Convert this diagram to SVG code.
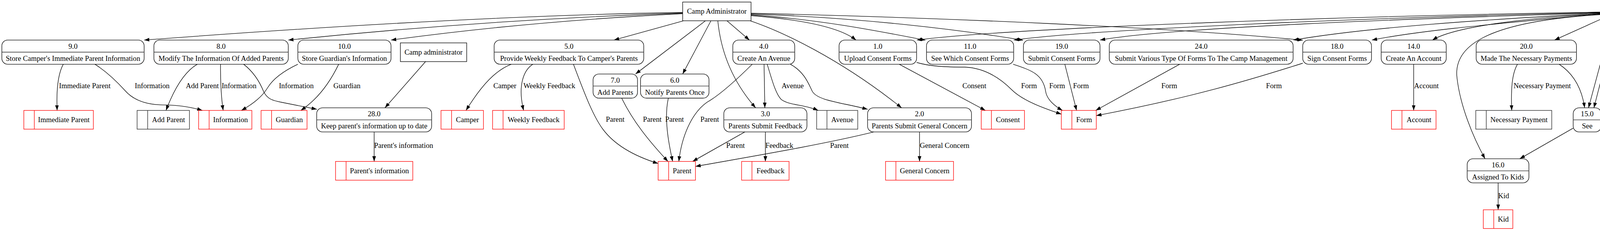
<svg xmlns="http://www.w3.org/2000/svg" width="7330" height="592" viewBox="0 0 7330 592">
<style>
text{font-family:"Liberation Serif","Times New Roman",serif;font-size:18.67px;fill:#000}
.m{text-anchor:middle}
.proc rect{fill:none;stroke:#000;stroke-width:1.33}
.proc line{stroke:#444;stroke-width:1.6}
.st rect,.st line{fill:none;stroke:#f00;stroke-width:1.33}
.sb rect,.sb line{fill:none;stroke:#222;stroke-width:1.33}
.ent rect{fill:none;stroke:#000;stroke-width:1.33}
#edges path{fill:none;stroke:#000;stroke-width:1.33;marker-end:url(#a)}
</style>
<defs>
<marker id="a" viewBox="0 0 10 7" refX="10" refY="3.5" markerWidth="13.33" markerHeight="9.33" markerUnits="userSpaceOnUse" orient="auto"><path d="M0,0L10,3.5L0,7z" fill="#000"/></marker>
</defs>
<rect width="7330" height="592" fill="#fff"/>

<g id="edges">
<!-- Camp Administrator edges -->
<path d="M1747.6,32 Q1200,40 369,102.7"/>
<path d="M1747.6,33.5 Q1250,50 738,102.7"/>
<path d="M1747.6,35 Q1350,55 1001,102.7"/>
<path d="M1749.6,53.3 L1571.7,102.7"/>
<path d="M1806,53.3 L1627,189.6"/>
<path d="M1820,53.3 L1747.6,189.6"/>
<path d="M1837.6,53.3 Q1850,180 1934.4,276.3"/>
<path d="M1861,53.3 L1918.6,102.7"/>
<path d="M1920.6,53.3 C2000,80 2150,150 2308,276.3"/>
<path d="M1922.6,40 C2050,50 2150,70 2191.5,102.7"/>
<path d="M1922.6,38 C2100,50 2250,80 2369,103"/>
<path d="M1922.6,36 C2200,45 2450,75 2619,103"/>
<path d="M1922.6,34 C2400,45 3000,70 3335,103"/>
<!-- Parent edges, left -->
<path d="M4103,31 C3500,40 2600,70 2347,102.7"/>
<path d="M4103,32 C3500,45 2800,75 2595,102.7"/>
<path d="M4103,33 C3600,48 3000,70 2816,102.7"/>
<path d="M4103,34 C3800,50 3500,70 3311,102.7"/>
<path d="M4103,35 C3900,55 3650,75 3512,102.7"/>
<path d="M4103,36 C3900,45 3720,70 3667,102.7"/>
<path d="M4103,37 C3800,55 3720,120 3730,200 C3738,270 3770,350 3801.7,406.8"/>
<path d="M4103,47 L3979.6,102.7"/>
<path d="M4126.7,53.3 L4066.6,276.3"/>
<path d="M4137.8,53.3 L4080.4,276.3"/>
<path d="M4165.4,53.3 L4218.8,102.7"/>
<!-- Parent edges, right -->
<path d="M4175.3,38 L4437,102.7"/>
<path d="M4175.3,37 C4466,45 4670,90 4757.5,103"/>
<path d="M4175.3,36 C4645,42 4975,88 5116.7,102.7"/>
<path d="M4175.3,35 C4855,42 5330,85 5543.2,102.7"/>
<path d="M4175.3,34 C4991,40 5560,82 5812.6,102.7"/>
<path d="M4175.3,33 C5073,40 5700,80 5974,102.7"/>
<path d="M4175.3,32 C5330,40 6140,75 6484.7,102.7"/>
<path d="M4175.3,31 C5470,38 6380,75 6767.7,102.7"/>
<path d="M4175.3,30 C5550,36 6500,75 6927.7,102.7"/>
<path d="M5666,53.3 L5666,102.7"/>
<!-- process to store -->
<path d="M162,164.6 C148,190 144,230 146.3,283"/>
<path d="M243,164.6 C275,185 300,210 320,232 C340,255 370,268 415,268.8 C460,269 495,276 518,283"/>
<path d="M505,164.6 C470,185 445,230 425,283"/>
<path d="M564.6,164.6 C564,200 566,250 571.4,283"/>
<path d="M623.7,164.6 C650,185 665,210 675,235 C685,255 700,258 720,262 L811,280"/>
<path d="M762.5,164.6 C730,180 700,200 685,225 C670,250 645,268 617.8,283"/>
<path d="M867,164.6 C850,200 820,250 770,283"/>
<path d="M1089.5,157.8 L985.5,276.3"/>
<path d="M957.8,338.2 L957.8,413.7"/>
<path d="M1308.7,164.6 C1270,180 1235,215 1193,283"/>
<path d="M1364,164.6 C1340,180 1325,220 1340.4,283"/>
<path d="M1468,164.6 C1500,250 1520,300 1544,332 C1580,380 1640,405 1684.8,419"/>
<path d="M1591.5,251.5 C1620,310 1660,360 1710,413.7"/>
<path d="M1711,251.5 C1700,300 1710,360 1722,413.7"/>
<path d="M1925.7,164.6 C1880,210 1840,245 1810,262 C1770,290 1745,350 1737.8,413.7"/>
<path d="M1906.8,338.2 L1773,413.7"/>
<path d="M2237,338.2 C2100,372 1900,405 1780.4,426.6"/>
<path d="M1956,164.6 L1958,276.3"/>
<path d="M1964,164.6 C1975,200 1985,240 2000,255 C2020,270 2060,268 2094.6,283"/>
<path d="M2023.4,164.6 C2060,185 2070,215 2080,235 C2095,258 2150,262 2221,280"/>
<path d="M1959.4,338.2 L1959.4,413.7"/>
<path d="M2354,338.2 L2354,413.7"/>
<path d="M2302,164.6 L2522.6,283"/>
<path d="M2346.5,160 C2380,170 2420,172 2470,172 C2520,174 2560,200 2590,230 C2620,260 2680,280 2717,292.6"/>
<path d="M2593.7,164.6 C2640,180 2670,190 2676.8,234 C2680,255 2700,272 2720,283"/>
<path d="M2726,164.6 L2756,283"/>
<path d="M3020,164.6 L2805,283"/>
<path d="M3335,162 C3200,205 3050,250 2806.5,296.3"/>
<path d="M3619,164.6 L3619,283"/>
<path d="M3884.7,164.6 C3870,190 3868,230 3870,283"/>
<path d="M3991.5,164.6 C4030,190 4050,230 4056.7,276.3"/>
<path d="M4027.4,328.4 L3890.6,406.8"/>
<path d="M3835.3,468.7 L3835.3,537.6"/>
<path d="M4252.6,164.6 L4252.6,283"/>
<path d="M4585.5,164.6 L4671.7,283"/>
<path d="M4883,164.6 L4720,283"/>
<path d="M5309,164.6 L5271.7,283"/>
<path d="M5331.8,164.6 L5387,283"/>
<path d="M5624,164.6 C5595,190 5580,230 5577,283"/>
<path d="M5674.8,164.6 L5708.5,283"/>
<path d="M5899.8,164.6 L5971.8,283"/>
<path d="M6175.7,164.6 L6017,283"/>
<path d="M6216,164.6 C6215,210 6225,255 6247.7,283"/>
<path d="M6484.7,162 C6440,172 6400,168 6360,188 C6320,210 6295,250 6280.6,283"/>
<path d="M6363,164.6 C6400,180 6425,195 6440,225 C6455,260 6500,280 6567.4,296.3"/>
<path d="M6447,164.6 C6490,180 6510,195 6530,220 C6550,250 6575,258 6620,266 C6690,280 6750,288 6790.7,296.3"/>
<path d="M6613.8,164.6 L6613.8,283"/>
<path d="M6973,164.6 C6930,185 6915,200 6905,225 C6895,250 6885,252 6860,258 L6660.7,296.3"/>
<path d="M6835,164.6 L6835,283"/>
<path d="M7094,164.6 C7020,230 6960,265 6880,292.6"/>
<path d="M7126,164.6 L7126,283"/>
<!-- edge labels -->
<text x="151" y="226">Immediate Parent</text>
<text x="345" y="226">Information</text>
<text x="475.7" y="226">Add Parent</text>
<text x="567.4" y="226">Information</text>
<text x="713.9" y="226">Information</text>
<text x="853.5" y="226">Guardian</text>
<text x="957.8" y="378.6">Parent's information</text>
<text x="1263" y="226">Camper</text>
<text x="1340" y="226">Weekly Feedback</text>
<text x="1551" y="312">Parent</text>
<text x="1646" y="312">Parent</text>
<text x="1703" y="312">Parent</text>
<text x="1793" y="312">Parent</text>
<text x="1859" y="378.6">Parent</text>
<text x="1959.4" y="378.6">Feedback</text>
<text x="2125" y="378.6">Parent</text>
<text x="2354.8" y="378.6">General Concern</text>
<text x="2001" y="226">Avenue</text>
<text x="2463.7" y="226">Consent</text>
<text x="2614" y="226">Form</text>
<text x="2686" y="226">Form</text>
<text x="2747" y="226">Form</text>
<text x="2973" y="226">Form</text>
<text x="3241" y="226">Form</text>
<text x="3620" y="226">Account</text>
<text x="3874.8" y="226">Necessary Payment</text>
<text x="3835.3" y="508">Kid</text>
<text x="4253.4" y="226">Counselor</text>
<text x="4646.8" y="226">Enrolled Child</text>
<text x="4846.7" y="226">Enrolled Child</text>
<text x="5301.4" y="226">Staff</text>
<text x="5371" y="226">Emergency</text>
<text x="5603.6" y="226">Concerns</text>
<text x="5700.7" y="226">Progress</text>
<text x="5953.3" y="226">Schedule</text>
<text x="6142" y="226">Schedule</text>
<text x="6228.8" y="226">Activity</text>
<text x="6353.5" y="226">Activity</text>
<text x="6459.2" y="226">Camp</text>
<text x="6567.8" y="226">Child</text>
<text x="6614.7" y="226">Camp</text>
<text x="6835.6" y="226">Child</text>
<text x="6926.5" y="226">Camp</text>
<text x="7063.5" y="226">Child</text>
<text x="7126.4" y="226">Photo</text>
</g>

<!-- entities -->
<g id="camp-administrator" class="ent"><rect x="1747.6" y="5.3" width="175" height="48"/><text class="m" x="1835.1" y="35.3">Camp Administrator</text></g>
<g id="parent" class="ent"><rect x="4103" y="5.3" width="72.3" height="48"/><text class="m" x="4139.15" y="35.3">Parent</text></g>
<g id="parent-2" class="ent"><rect x="5630" y="5.3" width="72.3" height="48"/><text class="m" x="5666.15" y="35.3">Parent</text></g>
<g id="camp-administrator-2" class="ent"><rect x="1025" y="109.9" width="169.7" height="48"/><text class="m" x="1109.85" y="139.9">Camp administrator</text></g>

<!-- processes row 1 -->
<g id="p9" class="proc"><rect x="4.7" y="102.7" width="364.3" height="61.9" rx="15"/><line x1="4.7" y1="133.6" x2="369" y2="133.6"/><text class="m" x="186.85" y="124.5">9.0</text><text class="m" x="186.85" y="155.5">Store Camper's Immediate Parent Information</text></g>
<g id="p8" class="proc"><rect x="394" y="102.7" width="344" height="61.9" rx="15"/><line x1="394" y1="133.6" x2="738" y2="133.6"/><text class="m" x="566" y="124.5">8.0</text><text class="m" x="566" y="155.5">Modify The Information Of Added Parents</text></g>
<g id="p10" class="proc"><rect x="762.5" y="102.7" width="238.5" height="61.9" rx="15"/><line x1="762.5" y1="133.6" x2="1001" y2="133.6"/><text class="m" x="881.75" y="124.5">10.0</text><text class="m" x="881.75" y="155.5">Store Guardian's Information</text></g>
<g id="p5" class="proc"><rect x="1265" y="102.7" width="383" height="61.9" rx="15"/><line x1="1265" y1="133.6" x2="1648" y2="133.6"/><text class="m" x="1456.5" y="124.5">5.0</text><text class="m" x="1456.5" y="155.5">Provide Weekly Feedback To Camper's Parents</text></g>
<g id="p4" class="proc"><rect x="1876" y="102.7" width="158.5" height="61.9" rx="15"/><line x1="1876" y1="133.6" x2="2034.5" y2="133.6"/><text class="m" x="1955.25" y="124.5">4.0</text><text class="m" x="1955.25" y="155.5">Create An Avenue</text></g>
<g id="p1" class="proc"><rect x="2148" y="102.7" width="198.5" height="61.9" rx="15"/><line x1="2148" y1="133.6" x2="2346.5" y2="133.6"/><text class="m" x="2247.25" y="124.5">1.0</text><text class="m" x="2247.25" y="155.5">Upload Consent Forms</text></g>
<g id="p11" class="proc"><rect x="2371.8" y="102.7" width="223.2" height="61.9" rx="15"/><line x1="2371.8" y1="133.6" x2="2595" y2="133.6"/><text class="m" x="2483.4" y="124.5">11.0</text><text class="m" x="2483.4" y="155.5">See Which Consent Forms</text></g>
<g id="p19" class="proc"><rect x="2620" y="102.7" width="196" height="61.9" rx="15"/><line x1="2620" y1="133.6" x2="2816" y2="133.6"/><text class="m" x="2718" y="124.5">19.0</text><text class="m" x="2718" y="155.5">Submit Consent Forms</text></g>
<g id="p24" class="proc"><rect x="2839.7" y="102.7" width="470.7" height="61.9" rx="15"/><line x1="2839.7" y1="133.6" x2="3310.4" y2="133.6"/><text class="m" x="3075.05" y="124.5">24.0</text><text class="m" x="3075.05" y="155.5">Submit Various Type Of Forms To The Camp Management</text></g>
<g id="p18" class="proc"><rect x="3335" y="102.7" width="176" height="61.9" rx="15"/><line x1="3335" y1="133.6" x2="3511" y2="133.6"/><text class="m" x="3423" y="124.5">18.0</text><text class="m" x="3423" y="155.5">Sign Consent Forms</text></g>
<g id="p14" class="proc"><rect x="3535.8" y="102.7" width="166.6" height="61.9" rx="15"/><line x1="3535.8" y1="133.6" x2="3702.4" y2="133.6"/><text class="m" x="3619.1" y="124.5">14.0</text><text class="m" x="3619.1" y="155.5">Create An Account</text></g>
<g id="p20" class="proc"><rect x="3779" y="102.7" width="256.7" height="61.9" rx="15"/><line x1="3779" y1="133.6" x2="4035.7" y2="133.6"/><text class="m" x="3907.35" y="124.5">20.0</text><text class="m" x="3907.35" y="155.5">Made The Necessary Payments</text></g>
<g id="p17" class="proc"><rect x="4135" y="102.7" width="234.6" height="61.9" rx="15"/><line x1="4135" y1="133.6" x2="4369.6" y2="133.6"/><text class="m" x="4252.3" y="124.5">17.0</text><text class="m" x="4252.3" y="155.5">Message Child's Counselors</text></g>
<g id="p23" class="proc"><rect x="4393.7" y="102.7" width="338.5" height="61.9" rx="15"/><line x1="4393.7" y1="133.6" x2="4732.2" y2="133.6"/><text class="m" x="4562.95" y="124.5">23.0</text><text class="m" x="4562.95" y="155.5">Edit Enrolled Children To The Camp Year</text></g>
<g id="p22" class="proc"><rect x="4757.1" y="102.7" width="334.7" height="61.9" rx="15"/><line x1="4757.1" y1="133.6" x2="5091.8" y2="133.6"/><text class="m" x="4924.45" y="124.5">22.0</text><text class="m" x="4924.45" y="155.5">See Enrolled Children To The Camp Year</text></g>
<g id="p26" class="proc"><rect x="5116.7" y="102.7" width="402.2" height="61.9" rx="15"/><line x1="5116.7" y1="133.6" x2="5518.9" y2="133.6"/><text class="m" x="5317.8" y="124.5">26.0</text><text class="m" x="5317.8" y="155.5">Connect With The Staff In Case Of An Emergency</text></g>
<g id="p29" class="proc"><rect x="5543.2" y="102.7" width="245.1" height="61.9" rx="15"/><line x1="5543.2" y1="133.6" x2="5788.3" y2="133.6"/><text class="m" x="5665.75" y="124.5">29.0</text><text class="m" x="5665.75" y="155.5">Check on my child's progress</text></g>
<g id="p12" class="proc"><rect x="5812.6" y="102.7" width="138.6" height="61.9" rx="15"/><line x1="5812.6" y1="133.6" x2="5951.2" y2="133.6"/><text class="m" x="5881.9" y="124.5">12.0</text><text class="m" x="5881.9" y="155.5">Track Schedule</text></g>
<g id="p27" class="proc"><rect x="5974" y="102.7" width="486" height="61.9" rx="15"/><line x1="5974" y1="133.6" x2="6460" y2="133.6"/><text class="m" x="6217" y="124.5">27.0</text><text class="m" x="6217" y="155.5">See A Schedule Of The Activities Children Involved At Camp</text></g>
<g id="p13" class="proc"><rect x="6484.7" y="102.7" width="256.3" height="61.9" rx="15"/><line x1="6484.7" y1="133.6" x2="6741" y2="133.6"/><text class="m" x="6612.85" y="124.5">13.0</text><text class="m" x="6612.85" y="155.5">Track Child's Activity At Camp</text></g>
<g id="p21" class="proc"><rect x="6767.7" y="102.7" width="134.5" height="61.9" rx="15"/><line x1="6767.7" y1="133.6" x2="6902.2" y2="133.6"/><text class="m" x="6834.95" y="124.5">21.0</text><text class="m" x="6834.95" y="155.5">Enroll Children</text></g>
<g id="p25" class="proc"><rect x="6927.7" y="102.7" width="396.9" height="61.9" rx="15"/><line x1="6927.7" y1="133.6" x2="7324.6" y2="133.6"/><text class="m" x="7126.15" y="124.5">25.0</text><text class="m" x="7126.15" y="155.5">Share Any Photos The Camp Has Taken Of Child</text></g>

<!-- processes other rows -->
<g id="p7" class="proc"><rect x="1518.3" y="189.6" width="113.7" height="61.9" rx="15"/><line x1="1518.3" y1="220.5" x2="1632" y2="220.5"/><text class="m" x="1575.15" y="211.5">7.0</text><text class="m" x="1575.15" y="242.5">Add Parents</text></g>
<g id="p6" class="proc"><rect x="1639.7" y="189.6" width="175.3" height="61.9" rx="15"/><line x1="1639.7" y1="220.5" x2="1815" y2="220.5"/><text class="m" x="1727.35" y="211.5">6.0</text><text class="m" x="1727.35" y="242.5">Notify Parents Once</text></g>
<g id="p28" class="proc"><rect x="810.7" y="276.3" width="294.3" height="61.9" rx="15"/><line x1="810.7" y1="307.3" x2="1105" y2="307.3"/><text class="m" x="957.85" y="298.2">28.0</text><text class="m" x="957.85" y="329.2">Keep parent's information up to date</text></g>
<g id="p3" class="proc"><rect x="1853" y="276.3" width="212.7" height="61.9" rx="15"/><line x1="1853" y1="307.3" x2="2065.7" y2="307.3"/><text class="m" x="1959.35" y="298.2">3.0</text><text class="m" x="1959.35" y="329.2">Parents Submit Feedback</text></g>
<g id="p2" class="proc"><rect x="2221" y="276.3" width="266" height="61.9" rx="15"/><line x1="2221" y1="307.3" x2="2487" y2="307.3"/><text class="m" x="2354" y="298.2">2.0</text><text class="m" x="2354" y="329.2">Parents Submit General Concern</text></g>
<g id="p15" class="proc"><rect x="4027.4" y="276.3" width="71.6" height="61.9" rx="15"/><line x1="4027.4" y1="307.3" x2="4099" y2="307.3"/><text class="m" x="4063.2" y="298.2">15.0</text><text class="m" x="4063.2" y="329.2">See</text></g>
<g id="p16" class="proc"><rect x="3756" y="406.8" width="158" height="61.9" rx="15"/><line x1="3756" y1="437.7" x2="3914" y2="437.7"/><text class="m" x="3835" y="428.7">16.0</text><text class="m" x="3835" y="459.7">Assigned To Kids</text></g>

<!-- data stores -->
<g id="s-immediate-parent" class="st"><rect x="61" y="283" width="178" height="48"/><line x1="87.8" y1="283" x2="87.8" y2="331"/><text class="m" x="163.4" y="313">Immediate Parent</text></g>
<g id="s-add-parent" class="sb"><rect x="351" y="283" width="134" height="48"/><line x1="378" y1="283" x2="378" y2="331"/><text class="m" x="431.5" y="313">Add Parent</text></g>
<g id="s-information" class="st"><rect x="508.5" y="283" width="136.2" height="48"/><line x1="535.4" y1="283" x2="535.4" y2="331"/><text class="m" x="590" y="313">Information</text></g>
<g id="s-guardian" class="st"><rect x="668.4" y="283" width="117.6" height="48"/><line x1="695.3" y1="283" x2="695.3" y2="331"/><text class="m" x="740.65" y="313">Guardian</text></g>
<g id="s-camper" class="st"><rect x="1129" y="283" width="108.6" height="48"/><line x1="1156" y1="283" x2="1156" y2="331"/><text class="m" x="1196.8" y="313">Camper</text></g>
<g id="s-weekly-feedback" class="st"><rect x="1261" y="283" width="183.4" height="48"/><line x1="1287.8" y1="283" x2="1287.8" y2="331"/><text class="m" x="1366.1" y="313">Weekly Feedback</text></g>
<g id="s-avenue" class="sb"><rect x="2090.6" y="283" width="105.2" height="48"/><line x1="2117" y1="283" x2="2117" y2="331"/><text class="m" x="2156.4" y="313">Avenue</text></g>
<g id="s-consent" class="st"><rect x="2512" y="283" width="110.6" height="48"/><line x1="2538" y1="283" x2="2538" y2="331"/><text class="m" x="2580.3" y="313">Consent</text></g>
<g id="s-form" class="st"><rect x="2717" y="283" width="89.5" height="48"/><line x1="2744" y1="283" x2="2744" y2="331"/><text class="m" x="2775.25" y="313">Form</text></g>
<g id="s-account" class="st"><rect x="3562.3" y="283" width="114" height="48"/><line x1="3589" y1="283" x2="3589" y2="331"/><text class="m" x="3632.65" y="313">Account</text></g>
<g id="s-necessary-payment" class="sb"><rect x="3778" y="283" width="194.5" height="48"/><line x1="3804.8" y1="283" x2="3804.8" y2="331"/><text class="m" x="3888.65" y="313">Necessary Payment</text></g>
<g id="s-counselor" class="sb"><rect x="4190" y="283" width="125" height="48"/><line x1="4216.8" y1="283" x2="4216.8" y2="331"/><text class="m" x="4265.9" y="313">Counselor</text></g>
<g id="s-enrolled-child" class="st"><rect x="4610.4" y="283" width="156.2" height="48"/><line x1="4637.3" y1="283" x2="4637.3" y2="331"/><text class="m" x="4701.95" y="313">Enrolled Child</text></g>
<g id="s-staff" class="sb"><rect x="5222" y="283" width="85.3" height="48"/><line x1="5248.8" y1="283" x2="5248.8" y2="331"/><text class="m" x="5278.05" y="313">Staff</text></g>
<g id="s-emergency" class="st"><rect x="5331.8" y="283" width="132.4" height="48"/><line x1="5358.7" y1="283" x2="5358.7" y2="331"/><text class="m" x="5411.45" y="313">Emergency</text></g>
<g id="s-concerns" class="st"><rect x="5514.8" y="283" width="121.3" height="48"/><line x1="5541.1" y1="283" x2="5541.1" y2="331"/><text class="m" x="5588.6" y="313">Concerns</text></g>
<g id="s-progress" class="st"><rect x="5660.4" y="283" width="115.2" height="48"/><line x1="5687.1" y1="283" x2="5687.1" y2="331"/><text class="m" x="5731.35" y="313">Progress</text></g>
<g id="s-schedule" class="st"><rect x="5928.6" y="283" width="117.6" height="48"/><line x1="5955.3" y1="283" x2="5955.3" y2="331"/><text class="m" x="6000.75" y="313">Schedule</text></g>
<g id="s-activity" class="st"><rect x="6216.5" y="283" width="106.9" height="48"/><line x1="6243.2" y1="283" x2="6243.2" y2="331"/><text class="m" x="6283.3" y="313">Activity</text></g>
<g id="s-camp" class="st"><rect x="6567.4" y="283" width="93.3" height="48"/><line x1="6594.1" y1="283" x2="6594.1" y2="331"/><text class="m" x="6627.4" y="313">Camp</text></g>
<g id="s-child" class="st"><rect x="6790.7" y="283" width="89.3" height="48"/><line x1="6817" y1="283" x2="6817" y2="331"/><text class="m" x="6848.5" y="313">Child</text></g>
<g id="s-photo" class="st"><rect x="7079" y="283" width="93.9" height="48"/><line x1="7106.2" y1="283" x2="7106.2" y2="331"/><text class="m" x="7139.55" y="313">Photo</text></g>
<g id="s-parents-information" class="st"><rect x="859" y="413.7" width="197.7" height="48"/><line x1="886" y1="413.7" x2="886" y2="461.7"/><text class="m" x="971.35" y="443.7">Parent's information</text></g>
<g id="s-parent" class="st"><rect x="1684.8" y="413.7" width="95.6" height="48"/><line x1="1711.7" y1="413.7" x2="1711.7" y2="461.7"/><text class="m" x="1746" y="443.7">Parent</text></g>
<g id="s-feedback" class="st"><rect x="1898.5" y="413.7" width="121.5" height="48"/><line x1="1925" y1="413.7" x2="1925" y2="461.7"/><text class="m" x="1972.5" y="443.7">Feedback</text></g>
<g id="s-general-concern" class="st"><rect x="2267" y="413.7" width="174" height="48"/><line x1="2293.5" y1="413.7" x2="2293.5" y2="461.7"/><text class="m" x="2367.25" y="443.7">General Concern</text></g>
<g id="s-kid" class="st"><rect x="3797.3" y="537.6" width="75.5" height="48"/><line x1="3824" y1="537.6" x2="3824" y2="585.6"/><text class="m" x="3848.4" y="567.6">Kid</text></g>
</svg>
